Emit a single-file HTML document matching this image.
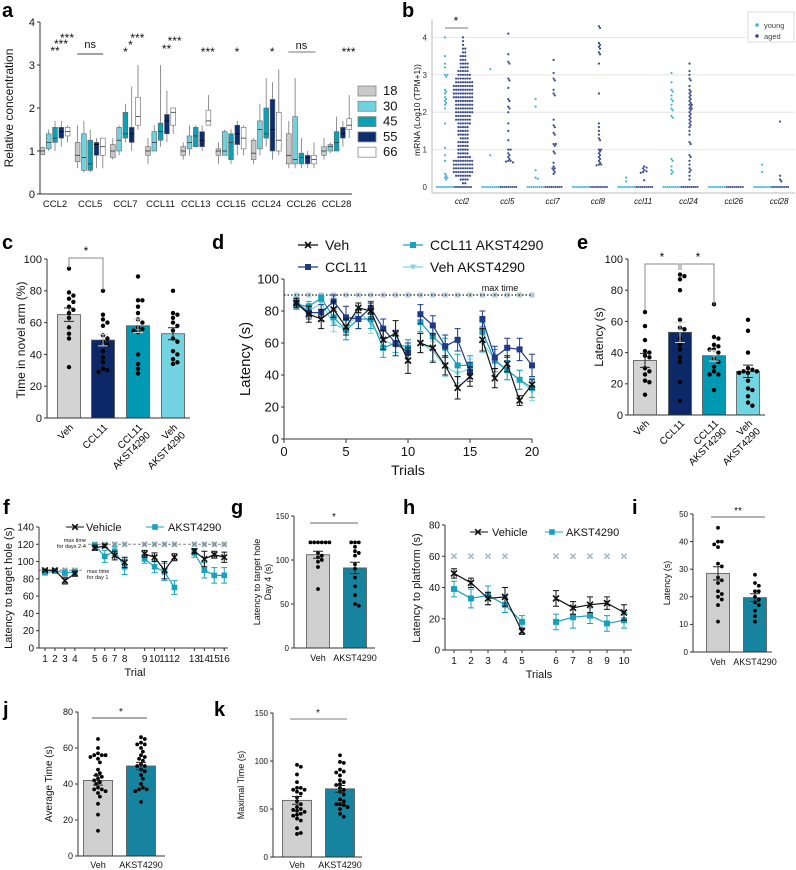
<!DOCTYPE html>
<html><head><meta charset="utf-8"><style>
html,body{margin:0;padding:0;background:#fff;}
svg{display:block;font-family:"Liberation Sans",Arial,sans-serif;}
</style></head><body>
<svg id="fig" width="796" height="870" viewBox="0 0 796 870" xmlns="http://www.w3.org/2000/svg">
<g font-weight="bold" font-size="20" fill="#000">
<text x="2" y="17">a</text>
<text x="402" y="17">b</text>
<text x="2" y="249">c</text>
<text x="212" y="249">d</text>
<text x="577" y="249">e</text>
<text x="3" y="514">f</text>
<text x="231" y="514">g</text>
<text x="403" y="514">h</text>
<text x="632" y="514">i</text>
<text x="3" y="716">j</text>
<text x="214" y="716">k</text>
</g>
</svg>
<script>
// ---------- DATA ----------
// panel a: [median, q1, q3, min, max] per chemokine per age
const aCats=['CCL2','CCL5','CCL7','CCL11','CCL13','CCL15','CCL24','CCL26','CCL28'];
const aAges=['18','30','45','55','66'];
const aAge18=[[1.0,0.92,1.08,0.9,1.1],[0.9,0.75,1.2,0.6,1.6],[1.0,0.85,1.15,0.8,1.3],[1.0,0.9,1.1,0.7,1.3],[1.0,0.9,1.1,0.8,1.2],[1.0,0.9,1.05,0.7,1.2],[0.95,0.8,1.25,0.7,1.3],[0.9,0.7,1.4,0.6,1.7],[1.0,0.9,1.1,0.8,1.3]];
const aAge30=[[1.2,1.05,1.4,1.0,1.5],[0.85,0.55,1.4,0.5,1.7],[1.25,1.0,1.55,0.9,1.6],[1.2,1.0,1.45,1.0,1.6],[1.2,1.05,1.35,0.9,1.6],[1.0,0.9,1.45,0.9,1.5],[1.5,1.05,1.7,0.9,2.1],[0.8,0.7,1.8,0.6,2.7],[1.1,1.0,1.15,0.95,1.2]];
const aAge45=[[1.3,1.2,1.55,1.0,1.7],[0.7,0.55,1.25,0.5,1.5],[1.4,1.3,1.9,1.2,2.1],[1.45,1.25,1.65,1.1,3.0],[1.35,1.1,1.55,1.1,1.6],[1.2,0.8,1.4,0.7,1.5],[1.4,1.3,2.0,1.1,2.7],[0.85,0.7,0.95,0.6,1.3],[1.2,1.0,1.45,1.0,1.8]];
const aAge55=[[1.45,1.3,1.55,1.1,1.7],[1.15,0.9,1.2,0.6,1.3],[1.4,1.2,1.55,1.0,2.5],[1.7,1.4,1.85,1.2,2.4],[1.25,1.1,1.45,1.0,1.6],[1.4,1.15,1.6,0.9,1.7],[1.5,1.0,2.2,0.8,2.6],[0.85,0.7,0.9,0.6,1.0],[1.4,1.3,1.55,1.1,1.7]];
const aAge66=[[1.45,1.35,1.55,1.2,1.6],[1.1,0.9,1.3,0.6,1.3],[1.8,1.6,2.25,1.5,3.0],[1.9,1.6,2.0,1.4,2.0],[1.7,1.6,1.95,1.6,2.3],[1.3,1.05,1.55,0.9,1.6],[1.25,1.0,1.9,0.9,2.9],[0.8,0.7,0.9,0.6,1.2],[1.6,1.5,1.75,1.3,2.3]];
const aYTicks=[0,1,2,3,4];

// panel b
const bCats=['ccl2','ccl5','ccl7','ccl8','ccl11','ccl24','ccl26','ccl28'];
const bYoung=[[4.0,3.5,3.3,3.2,3.0,3.0,2.95,2.6,2.55,2.5,2.4,2.35,2.3,2.25,2.2,2.1,1.7,1.05,0.85,0.7,0.35,0.3,0.25,0.25,0.2],[3.15,0.85],[2.35,2.15,0.45,0.25,0.22],[],[0.25,0.15],[3.05,2.8,2.6,2.55,2.45,2.35,2.3,2.2,2.1,2.05,1.9,1.85,0.75,0.7,0.55,0.45,0.4,0.35],[],[0.6,0.4]];
const bAged=[[],[4.1,3.55,3.35,3.3,2.9,2.85,2.65,2.35,2.3,2.15,2.1,2.0,1.7,1.5,1.25,1.0,1.0,0.9,0.85,0.8,0.75,0.7,0.7,0.68,0.66],[3.4,3.05,2.9,2.85,2.6,2.5,2.45,1.8,1.65,1.6,1.45,1.4,1.15,1.15,1.1,0.95,0.9,0.65,0.55,0.5,0.5,0.45,0.4,0.35],[4.3,4.25,3.85,3.8,3.75,3.7,3.6,3.55,3.3,2.5,1.7,1.6,1.5,1.4,1.3,1.25,1.0,1.0,0.95,0.9,0.85,0.8,0.75,0.7,0.65,0.6,0.6,0.58],[0.55,0.52,0.5,0.45,0.42,0.4,0.38,0.18],[3.3,3.1,3.0,2.9,2.85,2.7,2.6,2.55,2.5,2.45,2.4,2.35,2.3,2.25,2.2,2.2,2.15,2.1,2.1,2.05,2.0,1.95,1.9,1.85,1.8,1.75,1.7,1.65,1.6,1.5,1.4,1.2,1.15,0.85,0.8,0.7,0.6,0.5,0.45,0.4,0.3,0.2],[],[1.75,0.3,0.2,0.15]];
const bCcl2AgedBinValues=[0.1,0.2,0.3,0.4,0.5,0.6,0.7,0.8,0.9,1.0,1.1,1.2,1.3,1.4,1.5,1.6,1.7,1.8,1.9,2.0,2.1,2.2,2.3,2.4,2.5,2.6,2.7,2.8,2.9,3.0,3.1,3.2,3.3,3.4,3.5,3.6,3.7,3.8,3.9,4.0];
const bCcl2AgedBinCounts=[2,4,7,9,9,9,9,6,5,5,5,5,4,5,5,5,6,7,7,8,8,8,8,9,9,9,9,8,7,6,5,4,4,3,3,2,2,1,1,1];
const bYTicks=[0,1,2,3,4];

// panel c
const cGroups=['Veh','CCL11','CCL11 AKST4290','Veh AKST4290'];
const cMeans=[65,49,58,53];
const cErr=[4.2,3.6,4.3,3.8];
const cVeh=[94,79,77,75,73,70,68,66,63,57,53,50,32];
const cCcl11=[80,65,62,60,58,52,50,48,46,42,38,35,31,30,29];
const cCcl11Akst=[89,74,74,70,66,62,60,57,56,55,54,40,34,31,28];
const cVehAkst=[80,66,65,63,60,58,55,50,48,42,40,37,35,34];
const cYTicks=[0,20,40,60,80,100];

// panel d
const dTrials=[1,2,3,4,5,6,7,8,9,10,11,12,13,14,15,16,17,18,19,20];
const dVeh=[85,78,75,81,70,82,80,62,66,49,60,57,46,32,39,62,38,47,24,34];
const dCcl11=[85,79,79,86,76,75,82,69,60,54,78,71,58,62,42,75,51,57,56,46];
const dCcl11Akst=[84,83,88,76,68,75,75,57,60,57,73,64,57,46,46,67,49,43,37,32];
const dVehAkst=[86,80,85,72,68,80,72,62,58,56,60,55,45,41,44,60,50,43,37,30];
const dVehErr=[3,5,6,5,5,3,5,6,8,8,6,9,6,7,6,7,6,5,3,3];
const dCcl11Err=[3,4,5,4,7,6,4,6,8,6,6,6,7,7,6,5,7,6,7,7];
const dCcl11AkstErr=[3,3,2,5,6,6,6,6,6,5,6,6,6,7,6,6,7,6,6,6];
const dVehAkstErr=[3,4,4,5,6,5,6,6,6,6,6,6,6,6,6,6,6,6,6,6];
const dXTicks=[0,5,10,15,20];
const dYTicks=[0,20,40,60,80,100];

// panel e
const eGroups=['Veh','CCL11','CCL11 AKST4290','Veh AKST4290'];
const eMeans=[35,53,38,28];
const eErr=[4.5,6.5,3.5,4];
const eVeh=[66,57,48,41,40,38,37,30,28,26,22,21,13];
const eCcl11=[90,89,87,80,61,56,55,49,45,42,37,34,21,9];
const eCcl11Akst=[71,50,49,45,44,42,42,40,36,34,31,28,26,26,16];
const eVehAkst=[61,54,40,30,29,28,28,27,27,22,17,16,12,8,6];

// panel f
const fTrials=[1,2,3,4,5,6,7,8,9,10,11,12,13,14,15,16];
const fVeh=[90,90,78,86,116,118,107,99,109,105,90,105,112,103,108,105];
const fAkst=[87,89,87,88,119,106,112,94,103,94,88,70,110,90,84,84];
const fVehErr=[1,1,4,3,3,2,5,6,4,5,10,4,3,9,4,6];
const fAkstErr=[1,1,3,2,1,7,5,9,5,7,10,8,5,9,9,9];
const fYTicks=[0,20,40,60,80,100,120,140];

// panel g
const gMeans=[106,91];
const gErr=[4,6.5];
const gVeh=[120,120,120,120,120,120,108,105,103,100,98,92,67];
const gAkst=[120,120,120,115,110,108,105,95,90,80,70,60,50,48];
const gYTicks=[0,50,100,150];

// panel h
const hTrials=[1,2,3,4,5,6,7,8,9,10];
const hVeh=[49,43,33,34,12,33,27,29,30,24];
const hAkst=[39,33,35,29,18,18,21,22,17,19];
const hVehErr=[3,3,4,6,2,5,4,5,4,5];
const hAkstErr=[5,6,6,5,4,5,7,5,5,5];
const hYTicks=[0,20,40,60,80];

// panel i
const iMeans=[28.5,19.7];
const iErr=[2.4,1.4];
const iVeh=[45,40,40,39,38,32,31,27,26,25,22,21,20,19,17,11];
const iAkst=[28,25,24,22,22,20,19,18,17,15,13,11];
const iYTicks=[0,10,20,30,40,50];

// panel j
const jMeans=[42,50];
const jErr=[2.6,2.0];
const jVeh=[65,60,57,56,56,56,55,54,52,48,46,45,44,43,42,41,40,38,37,37,36,35,33,29,23,14];
const jAkst=[66,65,63,62,62,60,58,56,55,54,53,51,50,50,48,47,45,43,40,38,37,37,36,30];
const jYTicks=[0,20,40,60,80];

// panel k
const kMeans=[59,71];
const kErr=[4,3.5];
const kVeh=[96,94,86,78,72,72,70,70,68,66,62,58,55,52,50,49,48,47,45,44,43,40,38,30,24,25];
const kAkst=[106,99,98,91,89,88,85,80,78,76,75,72,70,68,65,60,58,55,55,54,52,50,45,42];
const kYTicks=[0,50,100,150];

// ---------- HELPERS ----------
const NS='http://www.w3.org/2000/svg';
const svg=document.getElementById('fig');
function mk(parent,tag,attrs,name){
  const e=document.createElementNS(NS,tag);
  for(const k in attrs) e.setAttribute(k,attrs[k]);
  
  
  parent.appendChild(e);
  return e;
}
function tx(parent,x,y,s,size,name,extra){
  const e=mk(parent,'text',Object.assign({x:x,y:y,'font-size':size,fill:'#111'},extra||{}),name);
  e.textContent=s;return e;
}
function lin(d0,d1,r0,r1){return v=>r0+(v-d0)*(r1-r0)/(d1-d0);}
function grp(name){return mk(svg,'g',{},name);}
function yAxis(g,x,sc,ticks,size,name,col){
  col=col||'#333';
  mk(g,'line',{x1:x,x2:x,y1:sc(ticks[0]),y2:sc(ticks[ticks.length-1]),stroke:col,'stroke-width':1},name+'-y-axis');
  ticks.forEach(t=>{
    mk(g,'line',{x1:x-3,x2:x,y1:sc(t),y2:sc(t),stroke:col},name+'-y-tick');
    tx(g,x-5,sc(t)+size*0.35,String(t),size,name+'-y-tick-label',{'text-anchor':'end'});
  });
}
function vlabel(g,x,y,s,size,name){
  tx(g,x,y,s,size,name,{'text-anchor':'middle',transform:'rotate(-90 '+x+' '+y+')'});
}
function marker(g,type,x,y,s,color,name,op){
  op=op==null?1:op;
  if(type==='x'){
    mk(g,'path',{d:`M${x-s} ${y-s}L${x+s} ${y+s}M${x-s} ${y+s}L${x+s} ${y-s}`,stroke:color,'stroke-width':1.6,opacity:op},name);
  }else if(type==='sq'){
    mk(g,'rect',{x:x-s,y:y-s,width:2*s,height:2*s,fill:color,opacity:op},name);
  }else if(type==='tri'){
    mk(g,'path',{d:`M${x-s} ${y-s*0.8}L${x+s} ${y-s*0.8}L${x} ${y+s}Z`,fill:color,opacity:op},name);
  }else{
    mk(g,'circle',{cx:x,cy:y,r:s,fill:color,opacity:op},name);
  }
}
function swarm(ys,r){
  const placed=[],out=[];
  ys.forEach(y=>{
    for(let k=0;k<400;k++){
      const off=(k%2?1:-1)*Math.ceil(k/2)*r;
      if(placed.every(p=>Math.hypot(p[0]-off,p[1]-y)>=2*r*0.95)){placed.push([off,y]);out.push(off);break;}
    }
  });
  return out;
}
function barChart(g,name,o){
  // o: axisX, sc, ticks, centers, width, means, errs, colors, dots, tickSize
  o.means.forEach((m,i)=>{
    const cx=o.centers[i];
    mk(g,'rect',{x:cx-o.width/2,y:o.sc(m),width:o.width,height:o.sc(0)-o.sc(m),fill:o.colors[i],stroke:'#555','stroke-width':0.8},name+'-bar-'+i);
  });
  o.dots.forEach((arr,i)=>{
    const cx=o.centers[i];
    const ys=arr.map(v=>o.sc(v));
    const offs=swarm(ys,o.dotR);
    ys.forEach((y,j)=>marker(g,'dot',cx+offs[j],y,o.dotR,'#000',name+'-point'));
  });
  o.means.forEach((m,i)=>{
    const cx=o.centers[i],c=o.errColor?o.errColor[i]:'#222';
    const y1=o.sc(m+o.errs[i]),y2=o.sc(m-o.errs[i]);
    mk(g,'path',{d:`M${cx} ${y1}L${cx} ${y2}M${cx-5} ${y1}L${cx+5} ${y1}M${cx-5} ${y2}L${cx+5} ${y2}`,stroke:c,'stroke-width':1,fill:'none'},name+'-error-bar');
  });
  yAxis(g,o.axisX,o.sc,o.ticks,o.tickSize,name);
  mk(g,'line',{x1:o.axisX,x2:o.axisEnd,y1:o.sc(0),y2:o.sc(0),stroke:'#333'},name+'-x-axis');
}
function lineSeries(g,name,xs,ys,errs,xf,yf,color,mtype,ms,breaks){
  let d='';
  xs.forEach((t,i)=>{d+=(i===0||breaks.includes(t)?'M':'L')+xf(t)+' '+yf(ys[i]);});
  mk(g,'path',{d:d,fill:'none',stroke:color,'stroke-width':1.2},name+'-line');
  xs.forEach((t,i)=>{
    const x=xf(t),a=yf(ys[i]+errs[i]),b=yf(ys[i]-errs[i]);
    mk(g,'path',{d:`M${x} ${a}L${x} ${b}M${x-3} ${a}L${x+3} ${a}M${x-3} ${b}L${x+3} ${b}`,stroke:color,'stroke-width':1,fill:'none'},name+'-error-bar');
    marker(g,mtype,x,yf(ys[i]),ms,color,name+'-marker');
  });
}

// ---------- PANEL A ----------
(function(){
  const g=grp('panel-a');
  const ys=lin(0,4,194,22);
  const cx=i=>55+i*35.2;
  const cols=['#c9c9c9','#6fd2df','#0aa0b5','#0d2e6e','#ffffff'];
  const ages=[aAge18,aAge30,aAge45,aAge55,aAge66];
  aCats.forEach((c,i)=>{
    ages.forEach((arr,ai)=>{
      const [med,q1,q3,mn,mx]=arr[i];
      const x=cx(i)+(ai-2)*6.3;
      mk(g,'line',{x1:x,x2:x,y1:ys(mx),y2:ys(mn),stroke:'#777','stroke-width':0.8},'box-whisker');
      mk(g,'rect',{x:x-2.4,y:ys(q3),width:4.8,height:ys(q1)-ys(q3),fill:cols[ai],stroke:'#666','stroke-width':0.6},'box-'+c+'-'+aAges[ai]);
      mk(g,'line',{x1:x-2.4,x2:x+2.4,y1:ys(med),y2:ys(med),stroke:ai===3?'#000':'#333','stroke-width':0.8},'box-median');
    });
    tx(g,cx(i),207,c,9.5,'x-tick-label',{'text-anchor':'middle'});
  });
  yAxis(g,40,ys,aYTicks,11,'panel-a');
  mk(g,'line',{x1:40,x2:352,y1:194,y2:194,stroke:'#333'},'panel-a-x-axis');
  vlabel(g,13,108,'Relative concentration',12,'y-axis-title');
  const sig=[['**',cx(0),55],['***',cx(0)+6,48],['***',cx(0)+12,42],['ns',cx(1),48],['*',cx(2),56],['*',cx(2)+5,49],['***',cx(2)+12,42],['**',cx(3)+6,53],['***',cx(3)+14,45],['***',cx(4)+12,56],['*',cx(5)+6,56],['*',cx(6)+6,56],['ns',cx(7),49],['***',cx(8)+12,56]];
  sig.forEach(s=>tx(g,s[1],s[2],s[0],s[0]==='ns'?11:12,'significance-label',{'text-anchor':'middle'}));
  mk(g,'line',{x1:cx(1)-13,x2:cx(1)+13,y1:54,y2:54,stroke:'#444'},'ns-line');
  mk(g,'line',{x1:cx(7)-13,x2:cx(7)+14,y1:52,y2:52,stroke:'#777'},'ns-line');
  aAges.forEach((a,i)=>{
    const y=86+i*15.3;
    mk(g,'rect',{x:358,y:y,width:18,height:10,fill:cols[i],stroke:'#888','stroke-width':0.8},'legend-swatch-'+a);
    tx(g,383,y+9,a,13,'legend-label-'+a);
  });
})();

// ---------- PANEL B ----------
(function(){
  const g=grp('panel-b');
  const ys=lin(0,4,187,37.4);
  const cx=i=>454+i*45.3;
  [1,2,3,4].forEach(t=>mk(g,'line',{x1:432,x2:795,y1:ys(t),y2:ys(t),stroke:'#e6e6e6'},'gridline'));
  mk(g,'line',{x1:432,x2:432,y1:20,y2:193,stroke:'#bbb'},'panel-b-y-axis');
  mk(g,'line',{x1:432,x2:795,y1:193,y2:193,stroke:'#bbb'},'panel-b-x-axis');
  bYTicks.forEach(t=>tx(g,427,ys(t)+3,String(t),8,'y-tick-label',{'text-anchor':'end',fill:'#333'}));
  vlabel(g,420,110,'mRNA (Log10 (TPM+1))',8.5,'y-axis-title');
  const young='#45b4d6',aged='#3a4a8c';
  bCats.forEach((c,i)=>{
    const c0=cx(i);
    for(let x=c0-17;x<=c0-1;x+=2) marker(g,'dot',x,ys(0),1,young,'zero-point-young');
    for(let x=c0+1;x<=c0+17;x+=2) marker(g,'dot',x,ys(0),1,aged,'zero-point-aged');
    let yv=bYoung[i].map(v=>ys(v)),offs=swarm(yv,1.15);
    yv.forEach((y,j)=>marker(g,'dot',c0-9+offs[j],y,1.1,young,'point-young'));
    let agedVals=bAged[i];
    if(i===0){agedVals=[];bCcl2AgedBinValues.forEach((v,k)=>{for(let n=0;n<bCcl2AgedBinCounts[k];n++)agedVals.push(v);});}
    yv=agedVals.map(v=>ys(v));offs=swarm(yv,1.15);
    yv.forEach((y,j)=>marker(g,'dot',c0+9+offs[j],y,1.1,aged,'point-aged'));
    tx(g,c0+8,204,c,8,'x-tick-label',{'text-anchor':'middle','font-style':'italic'});
  });
  mk(g,'line',{x1:445,x2:468,y1:28,y2:28,stroke:'#777'},'significance-line');
  tx(g,456,25,'*',12,'significance-label',{'text-anchor':'middle'});
  mk(g,'rect',{x:748,y:12,width:46,height:30,fill:'#fff',stroke:'#ddd'},'legend-box');
  marker(g,'dot',757,25,1.8,young,'legend-marker-young');
  marker(g,'dot',757,36,1.8,aged,'legend-marker-aged');
  tx(g,764,28,'young',7.5,'legend-label-young',{fill:'#444'});
  tx(g,764,39,'aged',7.5,'legend-label-aged',{fill:'#444'});
})();

// ---------- PANEL C ----------
(function(){
  const g=grp('panel-c');
  const sc=lin(0,100,418,259);
  const centers=[69,103,138,173];
  barChart(g,'panel-c',{axisX:47,axisEnd:190,sc:sc,ticks:cYTicks,centers:centers,width:23,means:cMeans,errs:cErr,colors:['#d3d3d3','#0c2866','#0099b4','#72d4e0'],errColor:['#222','#ccc','#ddd','#222'],dots:[cVeh,cCcl11,cCcl11Akst,cVehAkst],dotR:2.2,tickSize:11});
  vlabel(g,25,340,'Time in novel arm (%)',12,'y-axis-title');
  mk(g,'path',{d:'M69 268L69 258L103 258L103 290',stroke:'#888',fill:'none'},'significance-bracket');
  tx(g,86,255,'*',12,'significance-label',{'text-anchor':'middle'});
  cGroups.forEach((n,i)=>{
    const parts=n.split(' ');
    const x=centers[i]+5,y=428;
    const t=mk(g,'text',{x:x,y:y,'font-size':10,'text-anchor':'end',transform:`rotate(-45 ${x} ${y})`},'x-tick-label');
    parts.forEach((p,k)=>{const s=mk(t,'tspan',{x:x,dy:k?11:0},'x-tick-label-line');s.textContent=p;});
  });
})();

// ---------- PANEL D ----------
(function(){
  const g=grp('panel-d');
  const xs=lin(0,20,284,532),ys=lin(0,100,439,279);
  // faint max-time markers
  dTrials.forEach(t=>{
    marker(g,'sq',xs(t),ys(90),2.5,'#6f8fb0','max-time-marker',0.5);
  });
  mk(g,'line',{x1:284,x2:532,y1:ys(90),y2:ys(90),stroke:'#222','stroke-dasharray':'1.5,2','stroke-width':1.3},'max-time-line');
  tx(g,500,291,'max time',9,'max-time-label',{'text-anchor':'middle'});
  const br=[11,16];
  lineSeries(g,'veh-akst',dTrials,dVehAkst,dVehAkstErr,xs,ys,'#7fd3e3','tri',3,br);
  lineSeries(g,'ccl11-akst',dTrials,dCcl11Akst,dCcl11AkstErr,xs,ys,'#1aa0bf','sq',3,br);
  lineSeries(g,'ccl11',dTrials,dCcl11,dCcl11Err,xs,ys,'#1f3a86','sq',3,br);
  lineSeries(g,'veh',dTrials,dVeh,dVehErr,xs,ys,'#111','x',3,br);
  yAxis(g,284,ys,dYTicks,13,'panel-d');
  mk(g,'line',{x1:284,x2:532,y1:439,y2:439,stroke:'#333'},'panel-d-x-axis');
  dXTicks.forEach(t=>{mk(g,'line',{x1:xs(t),x2:xs(t),y1:439,y2:443,stroke:'#333'},'x-tick');tx(g,xs(t),456,String(t),13,'x-tick-label',{'text-anchor':'middle'});});
  tx(g,408,475,'Trials',14,'x-axis-title',{'text-anchor':'middle'});
  vlabel(g,250,359,'Latency (s)',15,'y-axis-title');
  const leg=[['Veh',298,245,'#111','x'],['CCL11',298,267,'#1f3a86','sq'],['CCL11 AKST4290',403,245,'#1aa0bf','sq'],['Veh AKST4290',403,267,'#7fd3e3','tri']];
  leg.forEach(l=>{
    mk(g,'line',{x1:l[1],x2:l[1]+20,y1:l[2],y2:l[2],stroke:l[3],'stroke-width':1.2},'legend-line');
    marker(g,l[4],l[1]+10,l[2],3,l[3],'legend-marker');
    tx(g,l[1]+27,l[2]+5,l[0],14,'legend-label');
  });
})();

// ---------- PANEL E ----------
(function(){
  const g=grp('panel-e');
  const sc=lin(0,100,415,259);
  const centers=[645,680,714,748];
  barChart(g,'panel-e',{axisX:628,axisEnd:765,sc:sc,ticks:[0,20,40,60,80,100],centers:centers,width:23,means:eMeans,errs:eErr,colors:['#d3d3d3','#0c2866','#0099b4','#72d4e0'],errColor:['#222','#ccc','#ddd','#222'],dots:[eVeh,eCcl11,eCcl11Akst,eVehAkst],dotR:2.2,tickSize:11});
  vlabel(g,603,337,'Latency (s)',12,'y-axis-title');
  mk(g,'path',{d:'M645 310L645 264L679 264L679 270M681 270L681 264L714 264L714 305',stroke:'#888',fill:'none'},'significance-bracket');
  tx(g,662,261,'*',12,'significance-label',{'text-anchor':'middle'});
  tx(g,698,261,'*',12,'significance-label',{'text-anchor':'middle'});
  eGroups.forEach((n,i)=>{
    const parts=n.split(' ');
    const x=centers[i]+5,y=424;
    const t=mk(g,'text',{x:x,y:y,'font-size':10,'text-anchor':'end',transform:`rotate(-45 ${x} ${y})`},'x-tick-label');
    parts.forEach((p,k)=>{const s=mk(t,'tspan',{x:x,dy:k?11:0},'x-tick-label-line');s.textContent=p;});
  });
})();

// ---------- PANEL F ----------
(function(){
  const g=grp('panel-f');
  const xs=t=>45+(t-1)*9.95+Math.floor((t-1)/4)*10;
  const ys=lin(0,140,648,527);
  fTrials.forEach(t=>{
    const m=t<=4?90:120;
    marker(g,'sq',xs(t),ys(m),2.5,'#6fb0c0','max-time-marker',0.5);
    marker(g,'x',xs(t),ys(m),2.5,'#666','max-time-marker',0.5);
  });
  mk(g,'line',{x1:39,x2:82,y1:ys(90),y2:ys(90),stroke:'#888','stroke-dasharray':'3,2'},'max-time-day1-line');
  mk(g,'line',{x1:88,x2:228,y1:ys(120),y2:ys(120),stroke:'#888','stroke-dasharray':'3,2'},'max-time-days2-4-line');
  tx(g,86,542,'max time',5.5,'max-time-label',{'text-anchor':'end'});
  tx(g,86,548,'for days 2-4',5.5,'max-time-label',{'text-anchor':'end'});
  tx(g,87,573,'max time',5.5,'max-time-label');
  tx(g,87,579,'for day 1',5.5,'max-time-label');
  lineSeries(g,'akst4290',fTrials,fAkst,fAkstErr,xs,ys,'#1aa0bf','sq',2.8,[5,9,13]);
  lineSeries(g,'vehicle',fTrials,fVeh,fVehErr,xs,ys,'#111','x',2.8,[5,9,13]);
  yAxis(g,39,ys,fYTicks,10,'panel-f');
  mk(g,'line',{x1:39,x2:228,y1:648,y2:648,stroke:'#333'},'panel-f-x-axis');
  fTrials.forEach(t=>{mk(g,'line',{x1:xs(t),x2:xs(t),y1:648,y2:651,stroke:'#333'},'x-tick');tx(g,xs(t),662,String(t),10,'x-tick-label',{'text-anchor':'middle'});});
  tx(g,135,676,'Trial',11,'x-axis-title',{'text-anchor':'middle'});
  vlabel(g,12,588,'Latency to target hole (s)',11,'y-axis-title');
  mk(g,'line',{x1:66,x2:84,y1:527,y2:527,stroke:'#111'},'legend-line');marker(g,'x',75,527,2.8,'#111','legend-marker');tx(g,86,531,'Vehicle',11,'legend-label');
  mk(g,'line',{x1:146,x2:164,y1:527,y2:527,stroke:'#1aa0bf'},'legend-line');marker(g,'sq',155,527,2.8,'#1aa0bf','legend-marker');tx(g,168,531,'AKST4290',11,'legend-label');
})();

// ---------- PANEL G ----------
(function(){
  const g=grp('panel-g');
  const sc=lin(0,150,648,516);
  barChart(g,'panel-g',{axisX:294,axisEnd:375,sc:sc,ticks:gYTicks,centers:[318,355],width:23,means:gMeans,errs:gErr,colors:['#cfcfcf','#17849f'],dots:[gVeh,gAkst],dotR:1.9,tickSize:8});
  mk(g,'line',{x1:310,x2:358,y1:523,y2:523,stroke:'#999','stroke-width':1.5},'significance-line');
  tx(g,334,520,'*',10,'significance-label',{'text-anchor':'middle'});
  tx(g,318,661,'Veh',9,'x-tick-label',{'text-anchor':'middle'});
  tx(g,355,661,'AKST4290',9,'x-tick-label',{'text-anchor':'middle'});
  vlabel(g,260,582,'Latency to target hole',9,'y-axis-title');
  vlabel(g,271,582,'Day 4 (s)',9,'y-axis-title');
})();

// ---------- PANEL H ----------
(function(){
  const g=grp('panel-h');
  const xs=t=>454+(t-1)*17+(t>5?17:0);
  const ys=lin(0,80,650,525);
  hTrials.forEach(t=>{if(t!==5){marker(g,'x',xs(t),ys(60),2.6,'#6f8f9a','max-time-marker',0.6);}});
  lineSeries(g,'akst4290',hTrials,hAkst,hAkstErr,xs,ys,'#1aa0bf','sq',3,[6]);
  lineSeries(g,'vehicle',hTrials,hVeh,hVehErr,xs,ys,'#111','x',3,[6]);
  yAxis(g,445,ys,hYTicks,10,'panel-h');
  mk(g,'line',{x1:445,x2:632,y1:650,y2:650,stroke:'#333'},'panel-h-x-axis');
  hTrials.forEach(t=>{mk(g,'line',{x1:xs(t),x2:xs(t),y1:650,y2:653,stroke:'#333'},'x-tick');tx(g,xs(t),664,String(t),10,'x-tick-label',{'text-anchor':'middle'});});
  tx(g,539,678,'Trials',11,'x-axis-title',{'text-anchor':'middle'});
  vlabel(g,420,588,'Latency to platform (s)',11,'y-axis-title');
  mk(g,'line',{x1:470,x2:488,y1:532,y2:532,stroke:'#111'},'legend-line');marker(g,'x',478,532,2.8,'#111','legend-marker');tx(g,492,536,'Vehicle',11,'legend-label');
  mk(g,'line',{x1:545,x2:563,y1:532,y2:532,stroke:'#1aa0bf'},'legend-line');marker(g,'sq',552,532,2.8,'#1aa0bf','legend-marker');tx(g,566,536,'AKST4290',11,'legend-label');
})();

// ---------- PANEL I ----------
(function(){
  const g=grp('panel-i');
  const sc=lin(0,50,652,514);
  barChart(g,'panel-i',{axisX:693,axisEnd:772,sc:sc,ticks:iYTicks,centers:[718,755],width:23,means:iMeans,errs:iErr,colors:['#cfcfcf','#17849f'],dots:[iVeh,iAkst],dotR:1.9,tickSize:8});
  mk(g,'line',{x1:711,x2:765,y1:517,y2:517,stroke:'#999','stroke-width':1.5},'significance-line');
  tx(g,738,514,'**',10,'significance-label',{'text-anchor':'middle'});
  tx(g,718,665,'Veh',9,'x-tick-label',{'text-anchor':'middle'});
  tx(g,755,665,'AKST4290',9,'x-tick-label',{'text-anchor':'middle'});
  vlabel(g,670,583,'Latency (s)',9,'y-axis-title');
})();

// ---------- PANEL J ----------
(function(){
  const g=grp('panel-j');
  const sc=lin(0,80,856,712);
  barChart(g,'panel-j',{axisX:78,axisEnd:165,sc:sc,ticks:jYTicks,centers:[98,141],width:29,means:jMeans,errs:jErr,colors:['#cfcfcf','#17849f'],dots:[jVeh,jAkst],dotR:1.9,tickSize:9});
  mk(g,'line',{x1:92,x2:147,y1:718,y2:718,stroke:'#555','stroke-width':1},'significance-line');
  tx(g,121,715,'*',10,'significance-label',{'text-anchor':'middle'});
  tx(g,98,868,'Veh',9,'x-tick-label',{'text-anchor':'middle'});
  tx(g,141,868,'AKST4290',9,'x-tick-label',{'text-anchor':'middle'});
  vlabel(g,52,784,'Average Time (s)',10,'y-axis-title');
})();

// ---------- PANEL K ----------
(function(){
  const g=grp('panel-k');
  const sc=lin(0,150,857,713);
  barChart(g,'panel-k',{axisX:273,axisEnd:362,sc:sc,ticks:kYTicks,centers:[297,340],width:29,means:kMeans,errs:kErr,colors:['#cfcfcf','#17849f'],dots:[kVeh,kAkst],dotR:1.9,tickSize:8});
  mk(g,'line',{x1:290,x2:347,y1:719,y2:719,stroke:'#999','stroke-width':1.3},'significance-line');
  tx(g,318,716,'*',10,'significance-label',{'text-anchor':'middle'});
  tx(g,297,868,'Veh',9,'x-tick-label',{'text-anchor':'middle'});
  tx(g,340,868,'AKST4290',9,'x-tick-label',{'text-anchor':'middle'});
  vlabel(g,244,785,'Maximal Time (s)',9,'y-axis-title');
})();
</script>
</body></html>
